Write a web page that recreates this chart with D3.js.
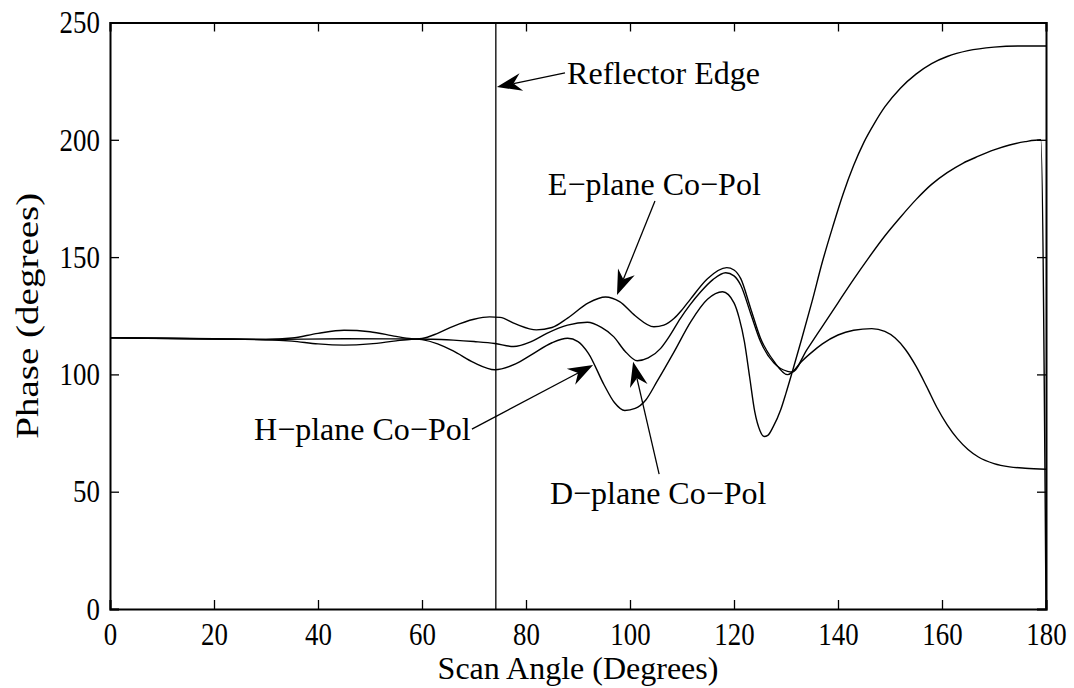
<!DOCTYPE html>
<html>
<head>
<meta charset="utf-8">
<script src="https://cdn.jsdelivr.net/npm/d3@7"></script>
<style>
  html, body { margin: 0; padding: 0; background: #fff; }
  svg { display: block; font-family: "Liberation Serif", "Times New Roman", serif; }
</style>
</head>
<body>
<div id="chart"></div>
<script>
// [scan angle, phase] pairs
const E_PLANE = [
  [0,115.6],[20,115.1],[30,114.8],[35,114.2],[40,113],[45,112.5],[50,113],[55,114.3],[58,115],
  [60,115.3],[63,117.5],[66,120.5],[70,123.5],[73,124.5],[75,124.3],[78,121.5],[82,119],[85,120],
  [88,124],[92,130.5],[95.3,133],[98,131],[101,125],[104.6,120.3],[106.5,121],[108.5,123.9],
  [110,127.5],[111.7,132.3],[114.9,140.8],[118.6,145.5],[120,144.5],[121.3,140.8],[123.2,128.1],
  [125.1,115.4],[127.7,105.5],[130.3,99.9],[131.2,101],[133,105.5],[135,109.5],[137,113],
  [140,116.8],[143,118.8],[146.5,119.5],[149,118.3],[151,115.5],[153,110.5],[155,103.5],
  [157,95],[159,86],[161,78.5],[163,72.5],[165,68],[167,64.8],[170,62],[173,60.6],[176,60],
  [180,59.6]
];
const D_PLANE = [
  [0,115.6],[20,115.2],[30,114.9],[45,115.2],[58,115.1],[62,115],[66,114.6],[70,114],[74,113.2],
  [77.6,111.9],[81,114],[84,117.5],[88,121],[91.8,122.2],[94.5,120],[96.9,116],[99,110],
  [101.4,105.8],[103.5,107],[105.9,111.1],[107.5,116],[109.7,123.9],[111.5,129.5],[113.6,135.2],
  [116,140.5],[118.4,143.3],[120,142],[121.3,138],[123.2,126],[125.1,114],[127.7,104.8],
  [130.3,101.3],[131.2,101],[134,110.5],[137,120.5],[140,130.5],[143,140.5],[146,150],
  [149,159],[152,167],[155,174.5],[158,181],[161,186],[164,190],[167,193],[170,195.7],
  [173,197.8],[176,199.2],[179,200],[180,0]
];
const H_PLANE = [
  [0,115.6],[20,115.1],[30,114.9],[35,115.5],[40,117.5],[45,118.8],[50,118.2],[55,116.2],
  [58,115.2],[60,114.8],[63,113],[66,110],[70,105],[74,102],[78,104.5],[81,108.3],[85,113.5],
  [88,115.4],[90,114],[92,109],[95,95.6],[97,88],[99,84.6],[101,85.5],[103,89],[105.2,97],
  [108.5,109.7],[111.7,122.5],[114.9,132],[117.8,135.2],[120,130.5],[121,124],[122,114],
  [123,99],[124,84],[125,76],[125.8,73.5],[126.5,74],[127.5,77.5],[129,85],[130,92],
  [131.2,101],[133,115],[135,131],[137,148],[139,163],[141,177],[143,189],[145,199],
  [147,207],[149,214],[152,222],[155,228],[158,232.5],[161,235.5],[165,238],[170,239.5],
  [175,240],[180,240]
];

const X_TICKS = [0, 20, 40, 60, 80, 100, 120, 140, 160, 180];
const Y_TICKS = [0, 50, 100, 150, 200, 250];
const REFLECTOR_EDGE = 74.2;

// label text, text anchor point, arrow tail, arrow tip (data units)
const NOTES = [
  { text: 'Reflector Edge', at: [87.9, 223.8], from: [87.5, 228.5], to: [74.4, 222.5] },
  { text: 'E\u2212plane Co\u2212Pol', at: [84.2, 176.5], from: [104.8, 173.9], to: [97.5, 133.8] },
  { text: 'H\u2212plane Co\u2212Pol', at: [27.7, 72], from: [69.6, 76.7], to: [92.9, 104] },
  { text: 'D\u2212plane Co\u2212Pol', at: [84.6, 44.8], from: [105.6, 57.5], to: [100.6, 105.4] },
];

const W = 1074, H = 688;
const m = { top: 22.5, right: 28, bottom: 79, left: 110 };
const iw = W - m.left - m.right;
const ih = H - m.top - m.bottom;
const FS = 32;
const SQUEEZE = 0.84;   // tick numbers in the reference are narrow

const svg = d3.select('#chart').append('svg')
  .attr('width', W).attr('height', H);

const g = svg.append('g').attr('transform', `translate(${m.left},${m.top})`);

const x = d3.scaleLinear().domain([0, 180]).range([0, iw]);
const y = d3.scaleLinear().domain([0, 250]).range([ih, 0]);

// axes with inward ticks on all four sides
const axB = g.append('g').attr('transform', `translate(0,${ih})`)
  .call(d3.axisBottom(x).tickValues(X_TICKS).tickSize(-9).tickPadding(13));
const axT = g.append('g')
  .call(d3.axisTop(x).tickValues(X_TICKS).tickSize(-9).tickFormat(''));
const axL = g.append('g')
  .call(d3.axisLeft(y).tickValues(Y_TICKS).tickSize(-9).tickPadding(12));
const axR = g.append('g').attr('transform', `translate(${iw},0)`)
  .call(d3.axisRight(y).tickValues(Y_TICKS).tickSize(-9).tickFormat(''));

[axB, axT, axL, axR].forEach(a => {
  a.select('.domain').attr('stroke', '#000').attr('stroke-width', 2);
  a.selectAll('.tick line').attr('stroke', '#000').attr('stroke-width', 1.3);
  a.selectAll('.tick text').attr('font-size', FS).attr('fill', '#000')
    .attr('font-family', '"Liberation Serif", serif')
    .attr('transform', `scale(${SQUEEZE},1)`);
});

// reflector edge marker
g.append('line')
  .attr('x1', x(REFLECTOR_EDGE)).attr('x2', x(REFLECTOR_EDGE))
  .attr('y1', y(0)).attr('y2', y(250))
  .attr('stroke', '#000').attr('stroke-width', 1.3);

const line = d3.line()
  .x(d => x(d[0])).y(d => y(d[1]))
  .curve(d3.curveMonotoneX);

g.selectAll('.series')
  .data([E_PLANE, D_PLANE, H_PLANE])
  .join('path')
  .attr('class', 'series')
  .attr('d', line)
  .attr('fill', 'none')
  .attr('stroke', '#000')
  .attr('stroke-width', 1.4);

// annotations
NOTES.forEach(n => {
  const x0 = x(n.from[0]), y0 = y(n.from[1]);
  const x1 = x(n.to[0]), y1 = y(n.to[1]);
  const ang = Math.atan2(y1 - y0, x1 - x0);
  const L = 25, hw = 9, back = 17;
  const ux = Math.cos(ang), uy = Math.sin(ang);
  const px = -uy, py = ux;
  g.append('line')
    .attr('x1', x0).attr('y1', y0)
    .attr('x2', x1 - ux * back).attr('y2', y1 - uy * back)
    .attr('stroke', '#000').attr('stroke-width', 1.3);
  const pts = [
    [x1, y1],
    [x1 - ux * L + px * hw, y1 - uy * L + py * hw],
    [x1 - ux * back, y1 - uy * back],
    [x1 - ux * L - px * hw, y1 - uy * L - py * hw],
  ];
  g.append('path')
    .attr('d', 'M' + pts.map(p => p.join(',')).join('L') + 'Z')
    .attr('fill', '#000');
  g.append('text')
    .attr('x', x(n.at[0])).attr('y', y(n.at[1]))
    .attr('font-size', FS)
    .text(n.text);
});

// axis labels
svg.append('text')
  .attr('x', m.left + iw / 2).attr('y', 679)
  .attr('text-anchor', 'middle')
  .attr('font-size', FS)
  .text('Scan Angle (Degrees)');

svg.append('text')
  .attr('transform', `translate(38,${m.top + ih / 2}) rotate(-90) scale(1.22,1)`)
  .attr('text-anchor', 'middle')
  .attr('font-size', FS)
  .text('Phase (degrees)');
</script>
</body>
</html>
